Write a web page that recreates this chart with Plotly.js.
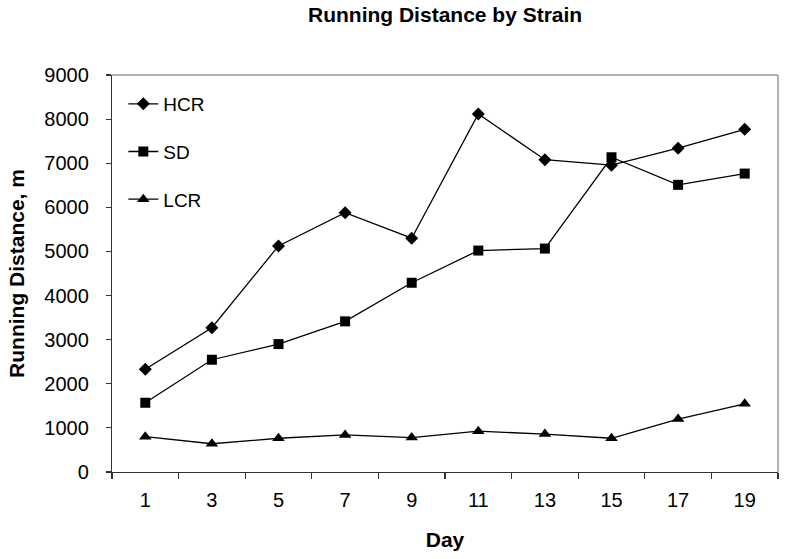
<!DOCTYPE html>
<html>
<head>
<meta charset="utf-8">
<script src="https://cdn.plot.ly/plotly-3.0.1.min.js"></script>
<style>html,body{margin:0;padding:0;background:#fff;}#chart{width:785px;height:559px;}</style>
</head>
<body>
<div id="chart"></div>
<script>
const days = ["1","3","5","7","9","11","13","15","17","19"];
const hcr = [2330, 3270, 5125, 5880, 5300, 8115, 7080, 6955, 7340, 7770];
const sd  = [1570, 2545, 2900, 3415, 4290, 5020, 5065, 7135, 6510, 6765];
const lcr = [800, 640, 765, 840, 780, 925, 860, 765, 1200, 1545];
const yTicks = [0,1000,2000,3000,4000,5000,6000,7000,8000,9000];

const font = "Arial, 'Liberation Sans', sans-serif";
const mk = (name, y, sym, size, grp) => ({
  type: 'scatter', mode: 'lines+markers', name: name, x: days, y: y,
  line: {color: '#000', width: 1.3},
  marker: {symbol: sym, size: size, color: '#000'},
  legendgroup: grp
});
const data = [
  mk('HCR', hcr, 'diamond', 10, 'a'),
  mk('SD', sd, 'square', 10, 'b'),
  mk('LCR', lcr, 'triangle-up', 11, 'c')
];
const layout = {
  width: 785, height: 559,
  margin: {l: 112, r: 7, t: 75, b: 87},
  paper_bgcolor: '#fff', plot_bgcolor: '#fff',
  font: {family: font, color: '#000', size: 20},
  title: {text: '<b>Running Distance by Strain</b>', font: {size: 21, family: font}, x: 0.567, xanchor: 'center', y: 0.973, yanchor: 'middle'},
  xaxis: {
    type: 'category', range: [-0.5, 9.5], tickson: 'boundaries',
    showline: true, linecolor: '#333', linewidth: 1.2,
    ticks: 'outside', ticklen: 6, tickcolor: '#333', tickwidth: 1.2,
    showgrid: false, zeroline: false,
    tickfont: {size: 20}, ticklabelstandoff: 10,
    title: {text: '<b>Day</b>', font: {size: 21}, standoff: 22}
  },
  yaxis: {
    range: [0, 9000], tickvals: yTicks, ticktext: yTicks.map(String),
    showline: true, linecolor: '#333', linewidth: 1.2,
    ticks: 'outside', ticklen: 5, tickcolor: '#333', tickwidth: 1.2,
    showgrid: false, zeroline: false,
    tickfont: {size: 20}, ticklabelstandoff: 13,
    title: {text: '<b>Running Distance, m</b>', font: {size: 21, family: font}, standoff: 14}
  },
  showlegend: true,
  legend: {
    x: 0.017, y: 0.975, xanchor: 'left', yanchor: 'top',
    bgcolor: 'rgba(0,0,0,0)', borderwidth: 0,
    font: {size: 19}, tracegroupgap: 20, itemwidth: 30,
    traceorder: 'grouped'
  },
  shapes: [
    {type: 'line', xref: 'paper', yref: 'paper', x0: 0, x1: 1, y0: 1, y1: 1, line: {color: '#999', width: 1.5}},
    {type: 'line', xref: 'paper', yref: 'paper', x0: 1, x1: 1, y0: 0, y1: 1, line: {color: '#999', width: 1.5}}
  ]
};
Plotly.newPlot('chart', data, layout, {displayModeBar: false, staticPlot: true});
</script>
</body>
</html>
